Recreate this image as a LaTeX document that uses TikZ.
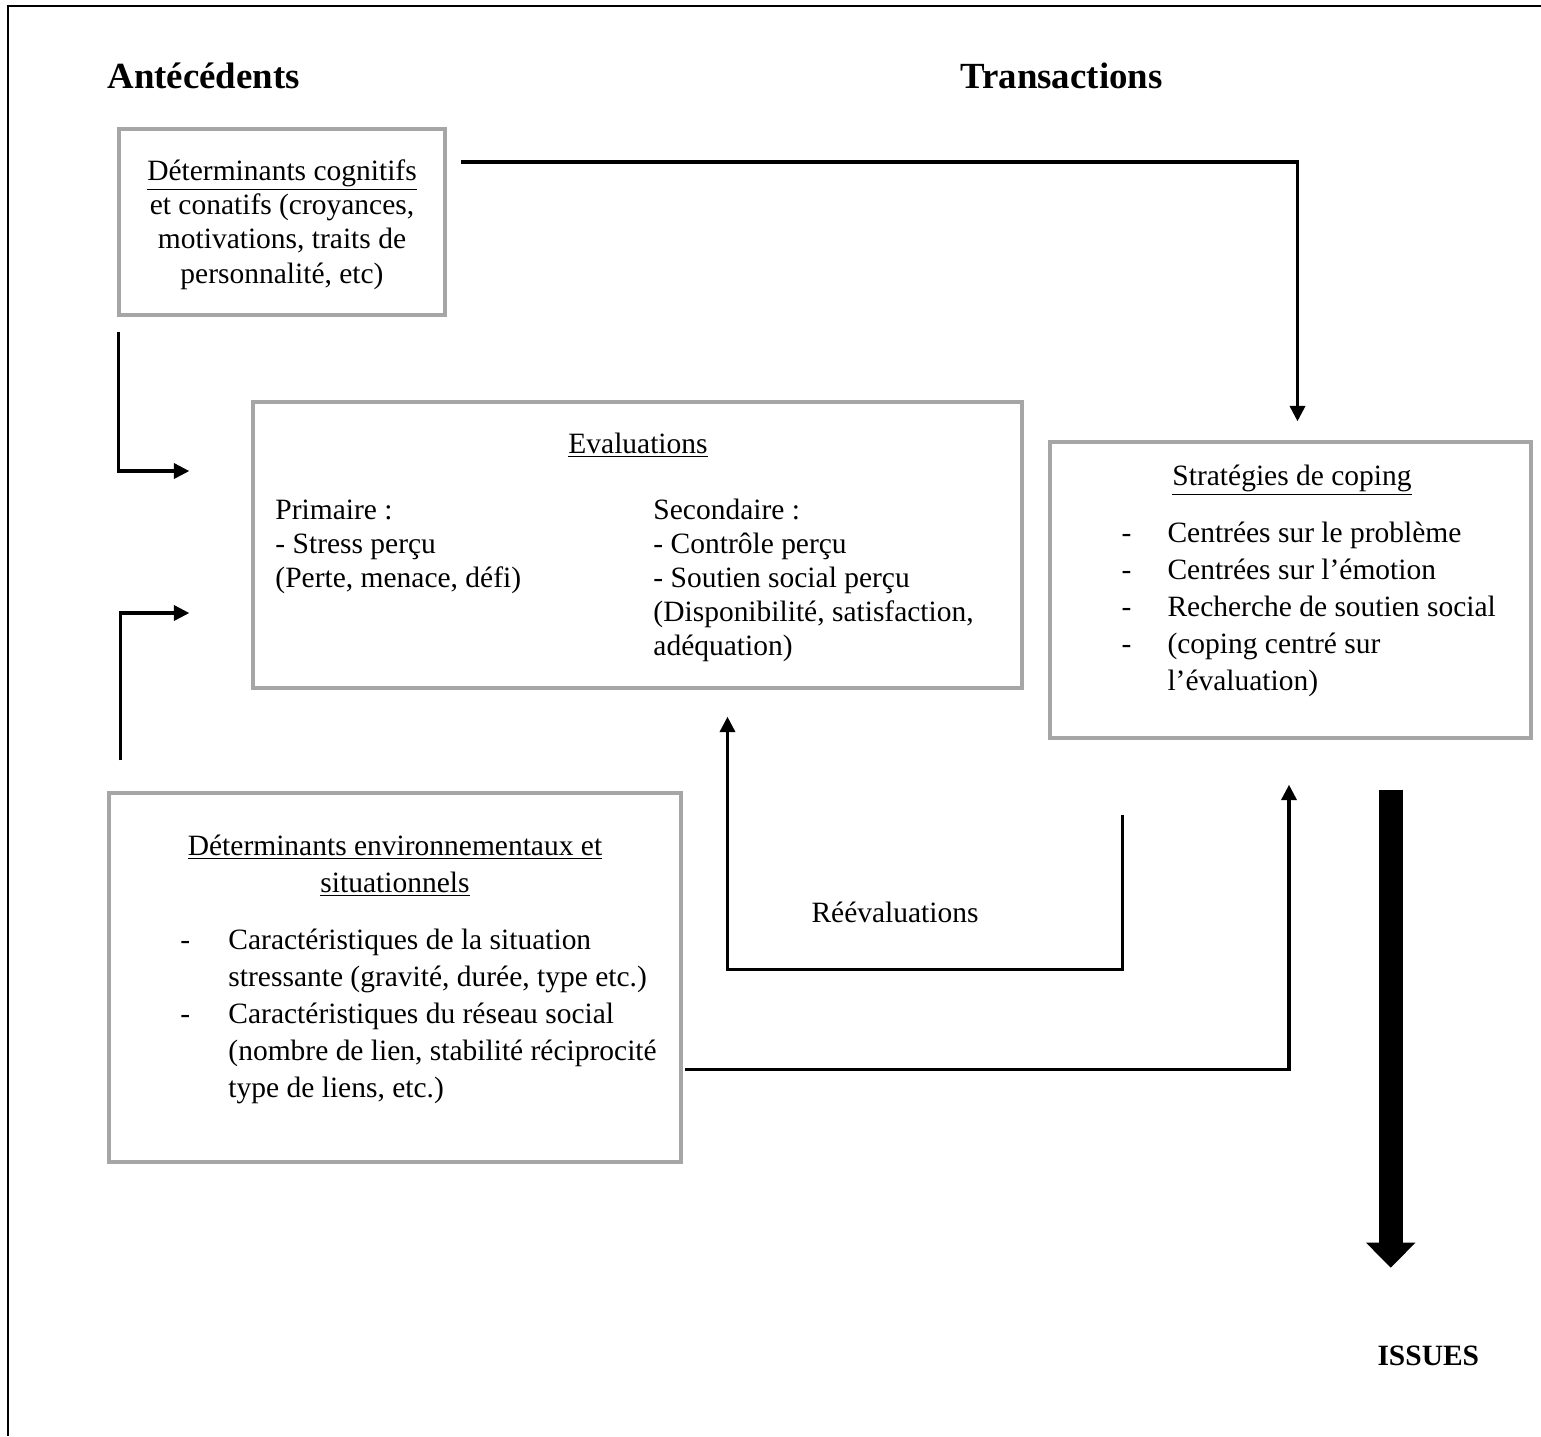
\documentclass[tikz,border=0pt]{standalone}
\usepackage{fontspec}
\setmainfont{Liberation Serif}
\usetikzlibrary{arrows.meta,calc,fit}
\definecolor{gris}{RGB}{166,166,166}
\newlength{\pxu}
\setlength{\pxu}{0.407pt}

\begin{document}
\begin{tikzpicture}[x=0.407pt,y=-0.407pt]
\tikzstyle{boite}=[rectangle,draw=gris,line width=1.4pt,inner sep=0pt]
\tikzstyle{texte}=[inner sep=0pt,anchor=base west,font=\fontsize{12}{14}\selectfont]
\tikzstyle{centre}=[texte,anchor=base]
\tikzstyle{titre}=[inner sep=0pt,anchor=base west,font=\bfseries\fontsize{15}{18}\selectfont]
\tikzstyle{fleche}=[line width=1.3pt,-{Triangle[length=6.3pt,width=6.2pt]}]
\useasboundingbox (0,0) rectangle (1541,1436);
\draw [line width=1.2pt] (8,1436) -- (8,6) -- (1541,6);
% titres
\node [titre] (antec) at (107,88) {Antécédents};
\node [titre] (trans) at (960,88) {Transactions};
\node [titre,font=\bfseries\fontsize{12}{14}\selectfont] (issues) at (1377,1365) {ISSUES};
% cadres
\node [boite,fit={(119,129) (445,315)}] (cogn) {};
\node [boite,fit={(253,402) (1022,688)}] (eval) {};
\node [boite,fit={(1050,442) (1531,738)}] (strat) {};
\node [boite,fit={(109,793) (681,1162)}] (envir) {};
% determinants cognitifs
\node [centre] (cogn1) at (282,180) {\underline{Déterminants cognitifs}};
\node [centre] (cogn2) at (282,214) {et conatifs (croyances,};
\node [centre] (cogn3) at (282,248) {motivations, traits de};
\node [centre] (cogn4) at (282,283) {personnalité, etc)};
% evaluations
\node [centre] (eval0) at (638,453) {\underline{Evaluations}};
\node [texte] (prim1) at (275,519) {Primaire :};
\node [texte] (prim2) at (275,553) {- Stress perçu};
\node [texte] (prim3) at (275,587) {(Perte, menace, défi)};
\node [texte] (sec1) at (653,519) {Secondaire :};
\node [texte] (sec2) at (653,553) {- Contrôle perçu};
\node [texte] (sec3) at (653,587) {- Soutien social perçu};
\node [texte] (sec4) at (653,621) {(Disponibilité, satisfaction,};
\node [texte] (sec5) at (653,655) {adéquation)};
% strategies
\node [centre] (strat0) at (1292,485) {\underline{Stratégies de coping}};
\node [texte] (strat1) at (1121,542) {\makebox[46\pxu][l]{-}Centrées sur le problème};
\node [texte] (strat2) at (1121,579) {\makebox[46\pxu][l]{-}Centrées sur l’émotion};
\node [texte] (strat3) at (1121,616) {\makebox[46\pxu][l]{-}Recherche de soutien social};
\node [texte] (strat4) at (1121,653) {\makebox[46\pxu][l]{-}(coping centré sur};
\node [texte] (strat5) at (1167,690) {l’évaluation)};
% determinants environnementaux
\node [centre] (envir1) at (395,855) {\underline{Déterminants environnementaux et}};
\node [centre] (envir2) at (395,892) {\underline{situationnels}};
\node [texte] (envir3) at (180,949) {\makebox[48\pxu][l]{-}Caractéristiques de la situation};
\node [texte] (envir4) at (228,986) {stressante (gravité, durée, type etc.)};
\node [texte] (envir5) at (180,1023) {\makebox[48\pxu][l]{-}Caractéristiques du réseau social};
\node [texte] (envir6) at (228,1060) {(nombre de lien, stabilité réciprocité};
\node [texte] (envir7) at (228,1097) {type de liens, etc.)};
\node [texte] (reeval) at (811,922) {Réévaluations};
% fleches
\draw [fleche] ($(cogn.east)+(14,-60)$) -| ($(strat.north)+(7,-19)$);
\draw [fleche] ($(cogn.south west)+(1,15)$) |- ($(eval.west)+(-62,-74)$);
\draw [fleche] ($(envir.north west)+(13,-31)$) |- ($(eval.west)+(-62,68)$);
\draw [fleche] ($(strat.south west)+(74,75)$) |- ($(eval.south)+(90,280)$) -- ($(eval.south)+(90,27)$);
\draw [fleche] ($(envir.east)+(2,92)$) -| ($(strat.south)+(-1.5,45)$);
\draw [line width=9.8pt,-{Triangle[length=10.2pt,width=19.5pt]}] ($(strat.south east)+(-142,50)$) -- ($(strat.south east)+(-142,528)$);
\end{tikzpicture}
\end{document}
